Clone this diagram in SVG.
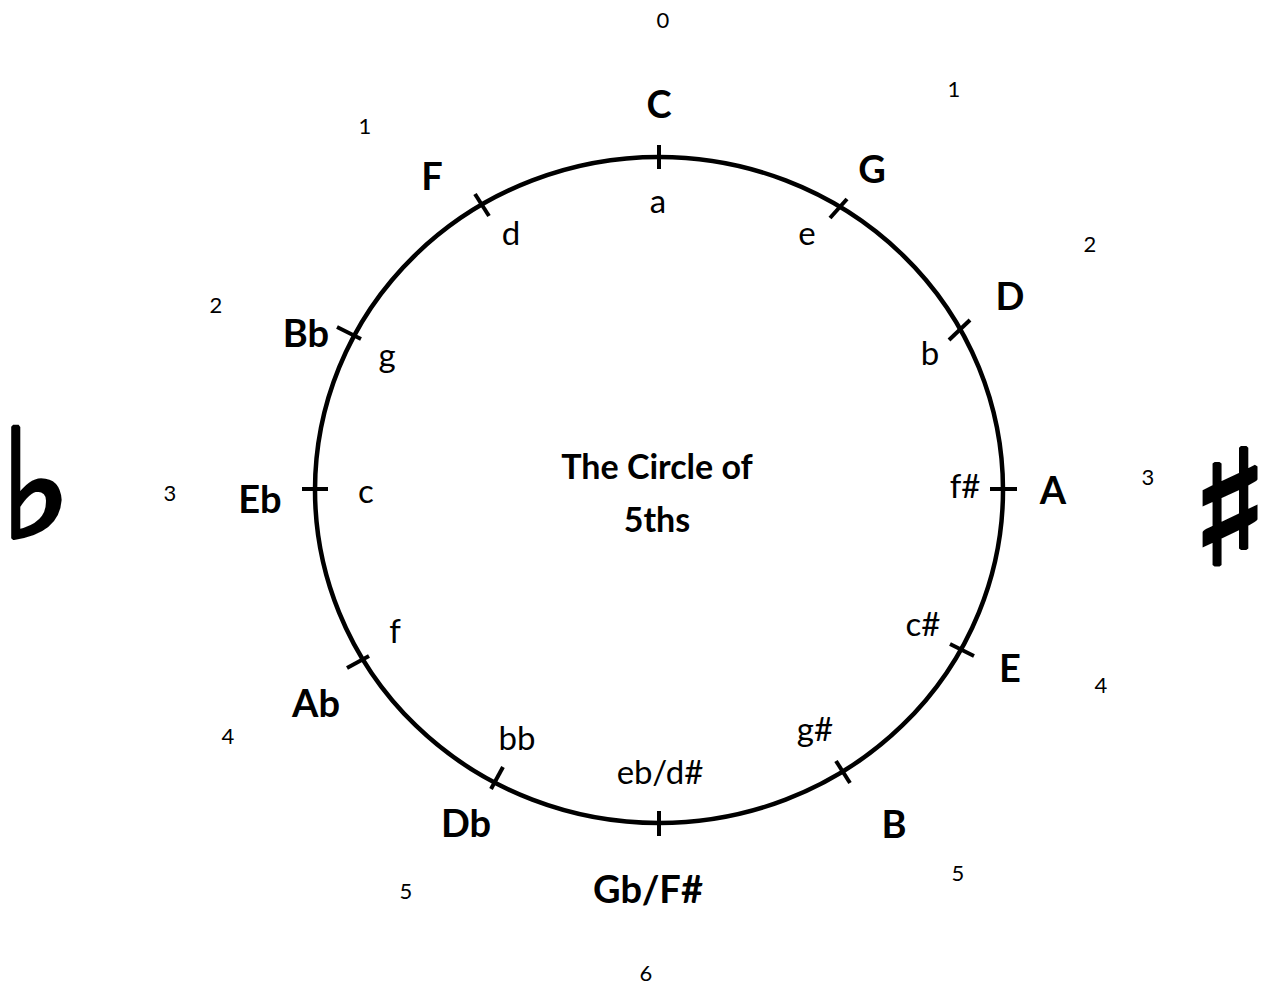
<svg xmlns="http://www.w3.org/2000/svg" width="1271" height="987" viewBox="0 0 1271 987">
<style>
.maj{font-family:Lato,"Liberation Sans",sans-serif;font-weight:bold;font-size:38px;fill:#000;text-anchor:middle;dominant-baseline:central}
.min{font-family:Lato,"Liberation Sans",sans-serif;font-size:33px;fill:#000;text-anchor:middle;dominant-baseline:central}
.num{font-family:Lato,"Liberation Sans",sans-serif;font-size:22px;fill:#000;text-anchor:middle;dominant-baseline:central}
.title{font-family:Lato,"Liberation Sans",sans-serif;font-weight:bold;font-size:34px;fill:#000;text-anchor:middle;dominant-baseline:central}
.sym{font-family:"DejaVu Sans",sans-serif;font-size:150px;fill:#000;stroke:#000;stroke-width:5;text-anchor:middle;dominant-baseline:central}
.tick{stroke:#000;stroke-width:4;fill:none}
</style>
<rect width="1271" height="987" fill="#fff"/>
<g id="connectors">
<ellipse cx="659" cy="490" rx="344" ry="333" fill="none" stroke="#000" stroke-width="4.5"/>
<line class="tick" x1="659" y1="145" x2="659" y2="169"/>
<line class="tick" x1="830" y1="218" x2="847" y2="199"/>
<line class="tick" x1="949" y1="340" x2="970" y2="320"/>
<line class="tick" x1="990" y1="489" x2="1017" y2="489"/>
<line class="tick" x1="950" y1="644" x2="974" y2="656"/>
<line class="tick" x1="836" y1="761" x2="850" y2="783"/>
<line class="tick" x1="659" y1="811" x2="659" y2="836"/>
<line class="tick" x1="491" y1="789" x2="503" y2="767"/>
<line class="tick" x1="347" y1="668" x2="369" y2="656"/>
<line class="tick" x1="302" y1="489" x2="328" y2="489"/>
<line class="tick" x1="337" y1="327" x2="361" y2="339"/>
<line class="tick" x1="475" y1="194" x2="489" y2="216"/>
</g>
<g id="C"><text class="maj" x="659" y="103">C</text><text class="min" x="658" y="200">a</text><text class="num" x="663" y="19">0</text></g>
<g id="G"><text class="maj" x="872" y="168">G</text><text class="min" x="807" y="232">e</text><text class="num" x="954" y="88">1</text></g>
<g id="D"><text class="maj" x="1010" y="295">D</text><text class="min" x="930" y="352">b</text><text class="num" x="1090" y="243">2</text></g>
<g id="A"><text class="maj" x="1053" y="489">A</text><text class="min" x="965" y="485">f#</text><text class="num" x="1148" y="476">3</text></g>
<g id="E"><text class="maj" x="1010" y="667">E</text><text class="min" x="923" y="623">c#</text><text class="num" x="1101" y="684">4</text></g>
<g id="B"><text class="maj" x="894" y="823">B</text><text class="min" x="815" y="728">g#</text><text class="num" x="958" y="872">5</text></g>
<g id="GbFs"><text class="maj" x="648" y="888">Gb/F#</text><text class="min" x="660" y="771">eb/d#</text><text class="num" x="646" y="972">6</text></g>
<g id="Db"><text class="maj" x="466" y="822">Db</text><text class="min" x="517" y="737">bb</text><text class="num" x="406" y="890">5</text></g>
<g id="Ab"><text class="maj" x="316" y="702">Ab</text><text class="min" x="395" y="630">f</text><text class="num" x="228" y="735">4</text></g>
<g id="Eb"><text class="maj" x="260" y="498">Eb</text><text class="min" x="366" y="490">c</text><text class="num" x="170" y="492">3</text></g>
<g id="Bb"><text class="maj" x="306" y="332">Bb</text><text class="min" x="387" y="354">g</text><text class="num" x="216" y="304">2</text></g>
<g id="F"><text class="maj" x="432" y="175">F</text><text class="min" x="511" y="232">d</text><text class="num" x="365" y="125">1</text></g>
<g id="title"><text class="title" x="657" y="465">The Circle of</text><text class="title" x="657" y="518">5ths</text></g>
<g id="flat"><text class="sym" x="36" y="485">♭</text></g>
<g id="sharp"><text class="sym" x="1230" y="509" style="font-size:158px">♯</text></g>
</svg>
